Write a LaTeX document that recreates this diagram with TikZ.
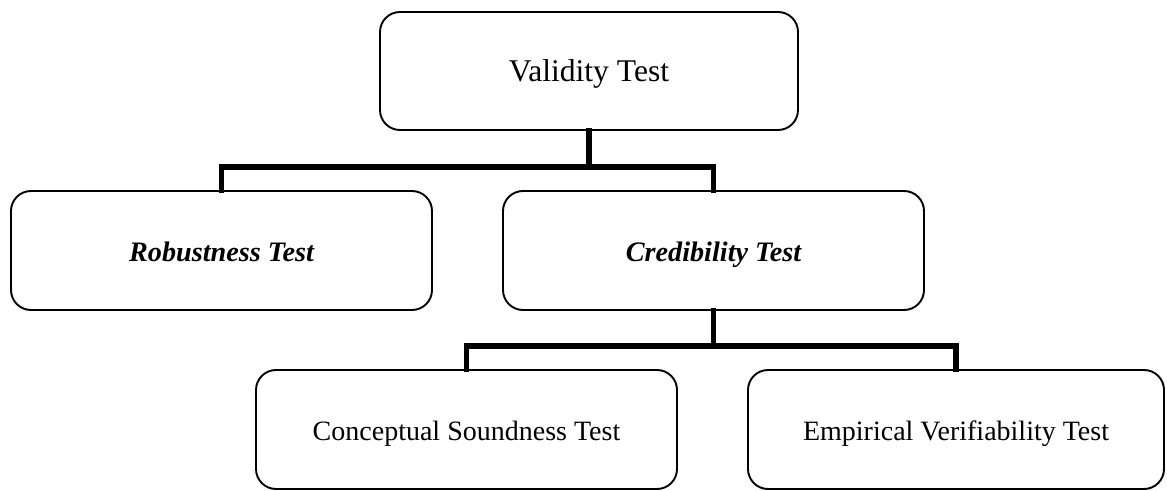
\documentclass[tikz,border=0pt]{standalone}
\usepackage{fontspec}
\setmainfont{Liberation Serif}
\begin{document}
\begin{tikzpicture}[x=0.5pt,y=-0.5pt,
  box/.style={draw=black, line width=0.95pt, rounded corners=10pt, inner sep=0pt,
    text height=1.1em, text depth=0pt, align=center},
  conn/.style={draw=black, line width=2.8pt, line join=miter, line cap=rect},
  topfont/.style={font=\fontsize{15.8pt}{18pt}\selectfont},
  midfont/.style={font=\fontsize{14.1pt}{17pt}\selectfont\bfseries\itshape},
  lowfont/.style={font=\fontsize{14pt}{17pt}\selectfont}]
\useasboundingbox (0,0) rectangle (1167,491);
\node[box, topfont, minimum width=209pt, minimum height=59pt] (val) at (589,71) {Validity Test};
\node[box, midfont, minimum width=210.5pt, minimum height=59.5pt] (rob) at (221.5,250.5) {Robustness Test};
\node[box, midfont, minimum width=210.5pt, minimum height=59.5pt] (cred) at (713.5,250.5) {Credibility Test};
\node[box, lowfont, minimum width=210.5pt, minimum height=59.5pt] (con) at (466.5,429.5) {Conceptual Soundness Test};
\node[box, lowfont, minimum width=208pt, minimum height=59.5pt] (emp) at (956,429.5) {Empirical Verifiability Test};
\coordinate (j1) at (589,167);
\coordinate (j2) at (713.5,346);
\draw[conn] (val.south) -- (j1);
\draw[conn] (rob.north) |- (j1) -| (cred.north);
\draw[conn] (cred.south) -- (j2);
\draw[conn] (con.north) |- (j2) -| (emp.north);
\end{tikzpicture}
\end{document}
